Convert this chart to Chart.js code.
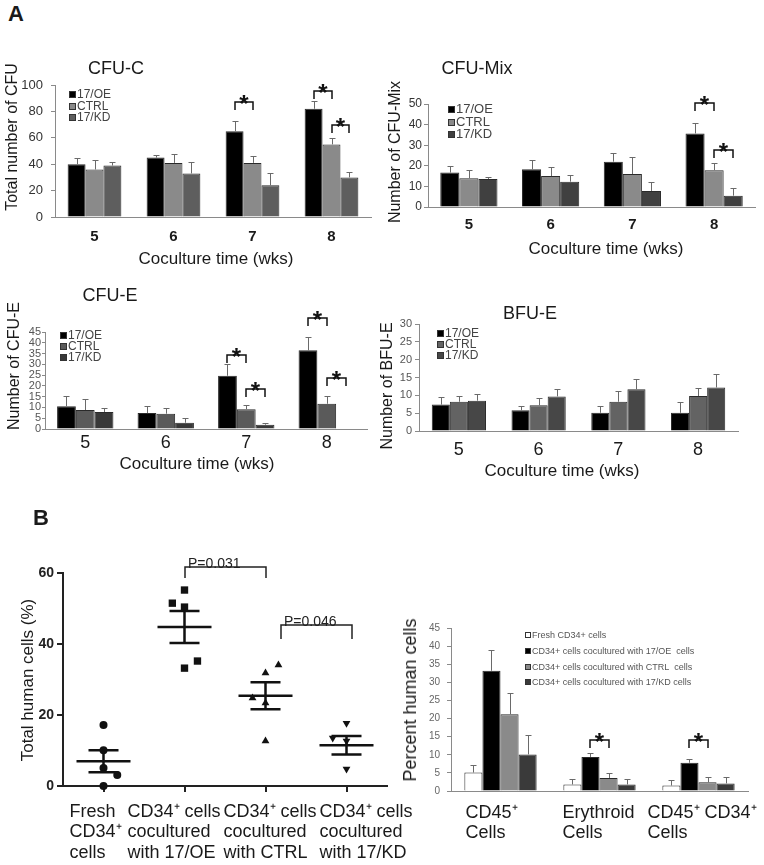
<!DOCTYPE html>
<html><head><meta charset="utf-8">
<script src="https://cdn.jsdelivr.net/npm/chart.js@4.4.1/dist/chart.umd.min.js"></script>
<style>
body{margin:0;background:#fff;width:764px;height:865px;position:relative;overflow:hidden;font-family:"Liberation Sans",Arial,Helvetica,sans-serif;color:#1a1a1a}
canvas{position:absolute}
.t{position:absolute;white-space:nowrap;transform:translate(-50%,-50%);line-height:1}
.r{transform:translate(-50%,-50%) rotate(-90deg)}
</style></head><body>
<canvas id="c1" width="380" height="230" style="left:0;top:40px"></canvas>
<canvas id="c2" width="384" height="230" style="left:380px;top:40px"></canvas>
<canvas id="c3" width="380" height="220" style="left:0;top:280px"></canvas>
<canvas id="c4" width="384" height="220" style="left:380px;top:280px"></canvas>
<canvas id="c6" width="364" height="265" style="left:400px;top:600px"></canvas>
<canvas id="c5" width="420" height="355" style="left:0;top:510px"></canvas>

<div class="t" style="left:16px;top:14px;font-size:22px;font-weight:bold">A</div>
<div class="t" style="left:41px;top:518px;font-size:22px;font-weight:bold">B</div>
<div class="t" style="left:116px;top:68px;font-size:18px">CFU-C</div>
<div class="t" style="left:477px;top:68px;font-size:18px">CFU-Mix</div>
<div class="t" style="left:110px;top:295px;font-size:18px">CFU-E</div>
<div class="t" style="left:530px;top:313px;font-size:18px">BFU-E</div>
<div class="t" style="left:216px;top:258px;font-size:17px">Coculture time (wks)</div>
<div class="t" style="left:606px;top:248px;font-size:17px">Coculture time (wks)</div>
<div class="t" style="left:197px;top:463px;font-size:17px">Coculture time (wks)</div>
<div class="t" style="left:562px;top:470px;font-size:17px">Coculture time (wks)</div>
<div class="t r" style="left:12px;top:137px;font-size:16px">Total number of CFU</div>
<div class="t r" style="left:395px;top:152px;font-size:16px">Number of CFU-Mix</div>
<div class="t r" style="left:14px;top:366px;font-size:16px">Number of CFU-E</div>
<div class="t r" style="left:387px;top:386px;font-size:16px">Number of BFU-E</div>
<div class="t r" style="left:27px;top:680px;font-size:17px">Total human cells (%)</div>
<div class="t r" style="left:410px;top:700px;font-size:18px">Percent human cells</div>

<script>
// ---------------- DATA ----------------
const weeks = ['5', '6', '7', '8'];
const groupNames = ['17/OE', 'CTRL', '17/KD'];

// CFU-C
const cfuC_OE = [40, 45, 65, 82];
const cfuC_CTRL = [36, 41, 41, 55];
const cfuC_KD = [39, 33, 24, 30];
const cfuC_OE_sd = [5, 2, 8, 6];
const cfuC_CTRL_sd = [7, 7, 5, 5];
const cfuC_KD_sd = [3, 9, 9, 4];
const cfuC_ticks = [0, 20, 40, 60, 80, 100];
const cfuC_sig = [[2, 0, 1, 87], [3, 0, 1, 95.5], [3, 1, 2, 69.7]]; // [week, seriesA, seriesB, bracket level]

// CFU-Mix
const cfuMix_OE = [16.7, 18.3, 22, 35.7];
const cfuMix_CTRL = [14, 15, 16, 17.9];
const cfuMix_KD = [13.6, 12.3, 7.8, 5.5];
const cfuMix_OE_sd = [3.3, 4.7, 4, 4.9];
const cfuMix_CTRL_sd = [4, 4.5, 8.3, 3.7];
const cfuMix_KD_sd = [1, 3.1, 4.4, 3.6];
const cfuMix_ticks = [0, 10, 20, 30, 40, 50];
const cfuMix_sig = [[3, 0, 1, 50.5], [3, 1, 2, 27.7]];

// CFU-E
const cfuE_OE = [10.6, 7.4, 24.7, 36.5];
const cfuE_CTRL = [8.8, 7.1, 9.2, 11.7];
const cfuE_KD = [7.9, 2.9, 2.0, null];
const cfuE_OE_sd = [4.7, 3.2, 5.3, 6.2];
const cfuE_CTRL_sd = [5.1, 2.8, 1.9, 3.6];
const cfuE_KD_sd = [1.8, 2.0, 0.9, null];
const cfuE_ticks = [0, 5, 10, 15, 20, 25, 30, 35, 40, 45];
const cfuE_sig = [[2, 0, 1, 34.3], [2, 1, 2, 18.5], [3, 0, 1, 51.5], [3, 1, 2, 23.7]];

// BFU-E
const bfuE_OE = [7.4, 5.8, 5.1, 5.1];
const bfuE_CTRL = [8.2, 7.2, 8.2, 9.8];
const bfuE_KD = [8.5, 9.7, 11.7, 12.2];
const bfuE_OE_sd = [2.1, 1.3, 1.9, 3.0];
const bfuE_CTRL_sd = [1.6, 2.0, 2.9, 2.2];
const bfuE_KD_sd = [1.8, 2.0, 2.9, 3.7];
const bfuE_ticks = [0, 5, 10, 15, 20, 25, 30];

// B left: total human cells (%)
const scatterGroups = [['Fresh', 'CD34⁺', 'cells'], ['CD34⁺ cells', 'cocultured', 'with 17/OE'], ['CD34⁺ cells', 'cocultured', 'with CTRL'], ['CD34⁺ cells', 'cocultured', 'with 17/KD']];
const fresh_pts = [17.2, 10.1, 5.1, 3.1, 0];
const fresh_jit = [0, 0, 0, 0.17, 0];
const oe_pts = [55.2, 51.5, 50.4, 35.2, 33.2];
const oe_jit = [0, -0.15, 0, 0.16, 0];
const ctrl_pts = [34.1, 31.8, 24.8, 23.4, 12.7];
const ctrl_jit = [0.16, 0, -0.16, 0, 0];
const kd_pts = [17.7, 13.5, 12.7, 4.8];
const kd_jit = [0, -0.17, 0, 0];
const groupMean = [7.0, 44.8, 25.4, 11.5];
const groupSEM = [3.1, 4.5, 3.8, 2.6];
const scatterTicks = [0, 20, 40, 60];
const pTests = [[1, 2, 61.7, 'P=0.031'], [2.19, 3.07, 45.4, 'P=0.046']];

// B right: percent human cells
const cellTypes = [['CD45⁺', 'Cells'], ['Erythroid', 'Cells'], ['CD45⁺ CD34⁺', 'Cells']];
const pctNames = ['Fresh CD34+ cells', 'CD34+ cells cocultured with 17/OE  cells', 'CD34+ cells cocultured with CTRL  cells', 'CD34+ cells cocultured with 17/KD cells'];
const pct_Fresh = [5.1, 1.8, 1.5];
const pct_OE = [33.2, 9.4, 7.8];
const pct_CTRL = [21.2, 3.6, 2.4];
const pct_KD = [10.1, 1.8, 2.1];
const pct_Fresh_sd = [2.0, 1.6, 1.5];
const pct_OE_sd = [5.8, 1.0, 0.9];
const pct_CTRL_sd = [5.8, 1.5, 1.5];
const pct_KD_sd = [5.3, 1.4, 1.8];
const pct_ticks = [0, 5, 10, 15, 20, 25, 30, 35, 40, 45];
const pct_sig = [[1, 1, 2, 14.1], [2, 1, 2, 14.1]];

// ---------------- RENDERING ----------------
const F = '"Liberation Sans", Arial, Helvetica, sans-serif';
Chart.defaults.font.family = F;

const errBars = {
  id: 'errBars',
  afterDatasetsDraw(chart) {
    const ctx = chart.ctx, y = chart.scales.y;
    ctx.save();
    ctx.strokeStyle = '#6a6a6a'; ctx.lineWidth = 1;
    chart.data.datasets.forEach((ds, di) => {
      if (!ds.sd) return;
      chart.getDatasetMeta(di).data.forEach((bar, i) => {
        const v = ds.data[i], e = ds.sd[i];
        if (v == null || e == null) return;
        const x = Math.round(bar.x) + 0.5;
        const y0 = y.getPixelForValue(v), y1 = Math.round(y.getPixelForValue(v + e)) + 0.5;
        ctx.beginPath();
        ctx.moveTo(x, y0); ctx.lineTo(x, y1);
        ctx.moveTo(x - 3, y1); ctx.lineTo(x + 3, y1);
        ctx.stroke();
      });
    });
    ctx.restore();
  }
};

function legendPlugin(L) {
  return {
    id: 'boxLegend',
    afterDraw(chart) {
      const { left, top } = chart.chartArea, ctx = chart.ctx;
      ctx.save();
      ctx.font = L.size + 'px ' + F; ctx.textBaseline = 'middle'; ctx.textAlign = 'left';
      chart.data.datasets.forEach((ds, i) => {
        const y = Math.round(top + L.y + i * L.lh), x = Math.round(left + L.x);
        const b = L.box, h = Math.floor(b / 2);
        ctx.fillStyle = ds.backgroundColor;
        ctx.fillRect(x - h, y - h, b, b);
        ctx.strokeStyle = '#333'; ctx.lineWidth = 1;
        ctx.strokeRect(x - h + 0.5, y - h + 0.5, b - 1, b - 1);
        ctx.fillStyle = L.color;
        ctx.fillText(ds.label, x + b - h + 1, y + 0.5);
      });
      ctx.restore();
    }
  };
}

function barX(chart, ds, c) {
  const el = chart.getDatasetMeta(ds).data[c];
  if (el && isFinite(el.x)) return el.x;
  const ref = chart.getDatasetMeta(0).data[c];
  return ref.x + ds * ref.width;
}

function sigPlugin(items) {
  return {
    id: 'sigMarks',
    afterDraw(chart) {
      const ctx = chart.ctx, y = chart.scales.y;
      ctx.save();
      ctx.strokeStyle = '#111'; ctx.lineWidth = 1.5; ctx.fillStyle = '#111';
      ctx.font = 'bold 24px ' + F; ctx.textAlign = 'center'; ctx.textBaseline = 'alphabetic';
      items.forEach(([c, a, b, lv]) => {
        const xa = Math.round(barX(chart, a, c)), xb = Math.round(barX(chart, b, c));
        const yt = Math.round(y.getPixelForValue(lv));
        ctx.beginPath();
        ctx.moveTo(xa, yt + 8); ctx.lineTo(xa, yt); ctx.lineTo(xb, yt); ctx.lineTo(xb, yt + 8);
        ctx.stroke();
        ctx.fillText('*', (xa + xb) / 2, yt + 10);
      });
      ctx.restore();
    }
  };
}

function catLabelPlugin(lines, o) {
  return {
    id: 'catLabels',
    afterDraw(chart) {
      const ctx = chart.ctx, x = chart.scales.x, bottom = chart.chartArea.bottom;
      ctx.save();
      ctx.font = o.size + 'px ' + F; ctx.fillStyle = '#1a1a1a';
      ctx.textAlign = 'left'; ctx.textBaseline = 'middle';
      lines.forEach((ls, i) => {
        const px = x.getPixelForValue(i) + o.dx[i];
        ls.forEach((t, j) => ctx.fillText(t, px, bottom + o.y0 + j * o.lh));
      });
      ctx.restore();
    }
  };
}

function makeBar(id, o) {
  const datasets = o.series.map(s => ({
    label: s.label, data: s.data, sd: s.sd,
    backgroundColor: s.color, borderColor: '#2a2a2a', borderWidth: 1,
    categoryPercentage: o.catPct, barPercentage: 1
  }));
  const plugins = [errBars, legendPlugin(o.legend), sigPlugin(o.sig || [])];
  if (o.catLabels) plugins.push(catLabelPlugin(o.labels, o.catLabels));
  return new Chart(document.getElementById(id), {
    type: 'bar',
    data: { labels: o.labels, datasets },
    options: {
      responsive: false, animation: false, devicePixelRatio: 1,
      layout: { padding: { left: 0, top: o.top, right: o.right, bottom: 0 } },
      plugins: { legend: { display: false }, tooltip: { enabled: false } },
      scales: {
        x: {
          grid: { drawOnChartArea: false, drawTicks: false },
          border: { color: '#8a8a8a' },
          ticks: { display: !o.catLabels, font: o.xFont, color: '#1a1a1a', padding: o.xPad },
          afterFit: s => { s.height = o.xH; }
        },
        y: {
          min: o.ticks[0], max: o.ticks[o.ticks.length - 1],
          afterBuildTicks: s => { s.ticks = o.ticks.map(v => ({ value: v })); },
          grid: { drawOnChartArea: false, tickLength: o.tl || 4, color: '#8a8a8a' },
          border: { color: '#8a8a8a' },
          ticks: { font: o.yFont, color: o.yColor, padding: o.yPad, autoSkip: false },
          afterFit: s => { s.width = o.yW; }
        }
      }
    },
    plugins
  });
}

makeBar('c1', {
  labels: weeks, ticks: cfuC_ticks, sig: cfuC_sig,
  series: [
    { label: groupNames[0], data: cfuC_OE, sd: cfuC_OE_sd, color: '#000000' },
    { label: groupNames[1], data: cfuC_CTRL, sd: cfuC_CTRL_sd, color: '#8a8a8a' },
    { label: groupNames[2], data: cfuC_KD, sd: cfuC_KD_sd, color: '#5e5e5e' }],
  top: 45, right: 9, yW: 55, xH: 53, catPct: 0.68,
  xFont: { size: 15, weight: 'bold' }, xPad: 11,
  yFont: { size: 13 }, yColor: '#333', yPad: 8,
  legend: { x: 17, y: 9, lh: 11.5, box: 7, size: 12, color: '#444' }
});

makeBar('c2', {
  labels: weeks, ticks: cfuMix_ticks, sig: cfuMix_sig,
  series: [
    { label: groupNames[0], data: cfuMix_OE, sd: cfuMix_OE_sd, color: '#000000' },
    { label: groupNames[1], data: cfuMix_CTRL, sd: cfuMix_CTRL_sd, color: '#8a8a8a' },
    { label: groupNames[2], data: cfuMix_KD, sd: cfuMix_KD_sd, color: '#404040' }],
  top: 64, right: 9, yW: 48, xH: 63, catPct: 0.7,
  xFont: { size: 15, weight: 'bold' }, xPad: 9,
  yFont: { size: 12 }, yColor: '#333', yPad: 2,
  legend: { x: 23, y: 5, lh: 12.5, box: 7, size: 13, color: '#444' }
});

makeBar('c3', {
  labels: weeks, ticks: cfuE_ticks, sig: cfuE_sig,
  series: [
    { label: groupNames[0], data: cfuE_OE, sd: cfuE_OE_sd, color: '#000000' },
    { label: groupNames[1], data: cfuE_CTRL, sd: cfuE_CTRL_sd, color: '#5a5a5a' },
    { label: groupNames[2], data: cfuE_KD, sd: cfuE_KD_sd, color: '#383838' }],
  top: 52, right: 13, yW: 45, xH: 71, catPct: 0.7, tl: 3,
  xFont: { size: 18 }, xPad: 3,
  yFont: { size: 11 }, yColor: '#555', yPad: 1,
  legend: { x: 18, y: 3, lh: 11, box: 7, size: 12, color: '#444' }
});

makeBar('c4', {
  labels: weeks, ticks: bfuE_ticks, sig: [],
  series: [
    { label: groupNames[0], data: bfuE_OE, sd: bfuE_OE_sd, color: '#000000' },
    { label: groupNames[1], data: bfuE_CTRL, sd: bfuE_CTRL_sd, color: '#636363' },
    { label: groupNames[2], data: bfuE_KD, sd: bfuE_KD_sd, color: '#474747' }],
  top: 44, right: 26, yW: 39, xH: 69, catPct: 0.68,
  xFont: { size: 18 }, xPad: 8,
  yFont: { size: 11 }, yColor: '#555', yPad: 3,
  legend: { x: 21, y: 9, lh: 11, box: 7, size: 12, color: '#444' }
});

makeBar('c6', {
  labels: cellTypes, ticks: pct_ticks, sig: pct_sig,
  series: [
    { label: pctNames[0], data: pct_Fresh, sd: pct_Fresh_sd, color: '#ffffff' },
    { label: pctNames[1], data: pct_OE, sd: pct_OE_sd, color: '#000000' },
    { label: pctNames[2], data: pct_CTRL, sd: pct_CTRL_sd, color: '#8a8a8a' },
    { label: pctNames[3], data: pct_KD, sd: pct_KD_sd, color: '#3a3a3a' }],
  top: 28, right: 16, yW: 51, xH: 74, catPct: 0.73,
  xFont: { size: 18 }, xPad: 4,
  yFont: { size: 10 }, yColor: '#666', yPad: 7,
  legend: { x: 77, y: 7, lh: 15.8, box: 6, size: 9, color: '#555' },
  catLabels: { size: 18, y0: 22, lh: 20, dx: [-35, -37, -51] }
});

// ---- scatter panel ----
function pts(vals, jit, g) { return vals.map((v, i) => ({ x: g + jit[i], y: v })); }
function scatterSet(vals, jit, g, style, r, rot) {
  return { data: pts(vals, jit, g), pointStyle: style, pointRadius: r, pointRotation: rot,
    backgroundColor: '#111', borderColor: '#111', borderWidth: 0, clip: false };
}
const meanSem = {
  id: 'meanSem',
  afterDatasetsDraw(chart) {
    const ctx = chart.ctx, x = chart.scales.x, y = chart.scales.y;
    ctx.save(); ctx.strokeStyle = '#111'; ctx.lineWidth = 2.5;
    groupMean.forEach((m, i) => {
      const cx = x.getPixelForValue(i);
      const ym = y.getPixelForValue(m), yh = y.getPixelForValue(m + groupSEM[i]), yl = y.getPixelForValue(m - groupSEM[i]);
      ctx.beginPath();
      ctx.moveTo(cx - 27, ym); ctx.lineTo(cx + 27, ym);
      ctx.moveTo(cx - 15, yh); ctx.lineTo(cx + 15, yh);
      ctx.moveTo(cx - 15, yl); ctx.lineTo(cx + 15, yl);
      ctx.moveTo(cx, yh); ctx.lineTo(cx, yl);
      ctx.stroke();
    });
    ctx.restore();
  }
};
const pPlugin = {
  id: 'pBrackets',
  afterDraw(chart) {
    const ctx = chart.ctx, x = chart.scales.x, y = chart.scales.y;
    ctx.save(); ctx.strokeStyle = '#222'; ctx.lineWidth = 1.5; ctx.fillStyle = '#222';
    ctx.font = '14px ' + F; ctx.textAlign = 'left'; ctx.textBaseline = 'alphabetic';
    pTests.forEach(([a, b, lv, txt], k) => {
      const xa = Math.round(x.getPixelForValue(a)), xb = Math.round(x.getPixelForValue(b));
      const yt = Math.round(y.getPixelForValue(lv));
      const leg = k === 0 ? 11 : 14;
      ctx.beginPath();
      ctx.moveTo(xa, yt + leg); ctx.lineTo(xa, yt); ctx.lineTo(xb, yt); ctx.lineTo(xb, yt + leg);
      ctx.stroke();
      ctx.fillText(txt, xa + 3, yt + 1);
    });
    ctx.restore();
  }
};

new Chart(document.getElementById('c5'), {
  type: 'scatter',
  data: { datasets: [
    scatterSet(fresh_pts, fresh_jit, 0, 'circle', 4, 0),
    scatterSet(oe_pts, oe_jit, 1, 'rect', 5.2, 0),
    scatterSet(ctrl_pts, ctrl_jit, 2, 'triangle', 4.5, 0),
    scatterSet(kd_pts, kd_jit, 3, 'triangle', 4.5, 180)] },
  options: {
    responsive: false, animation: false, devicePixelRatio: 1,
    layout: { padding: { left: 0, top: 63, right: 33, bottom: 0 } },
    plugins: { legend: { display: false }, tooltip: { enabled: false } },
    scales: {
      x: {
        type: 'linear', min: -0.5, max: 3.5,
        afterBuildTicks: s => { s.ticks = scatterGroups.map((g, i) => ({ value: i })); },
        ticks: { callback: () => '' },
        grid: { drawOnChartArea: false, tickLength: 6, lineWidth: 2, color: '#222' },
        border: { width: 2, color: '#222' },
        afterFit: s => { s.height = 79; }
      },
      y: {
        min: scatterTicks[0], max: scatterTicks[scatterTicks.length - 1],
        afterBuildTicks: s => { s.ticks = scatterTicks.map(v => ({ value: v })); },
        ticks: { font: { size: 14, weight: 'bold' }, color: '#222', padding: 3, autoSkip: false },
        grid: { drawOnChartArea: false, tickLength: 6, lineWidth: 2, color: '#222' },
        border: { width: 2, color: '#222' },
        afterFit: s => { s.width = 63; }
      }
    }
  },
  plugins: [meanSem, pPlugin, catLabelPlugin(scatterGroups, { size: 18, y0: 26, lh: 20.5, dx: [-34, -57, -42, -27] })]
});
</script>
</body></html>
